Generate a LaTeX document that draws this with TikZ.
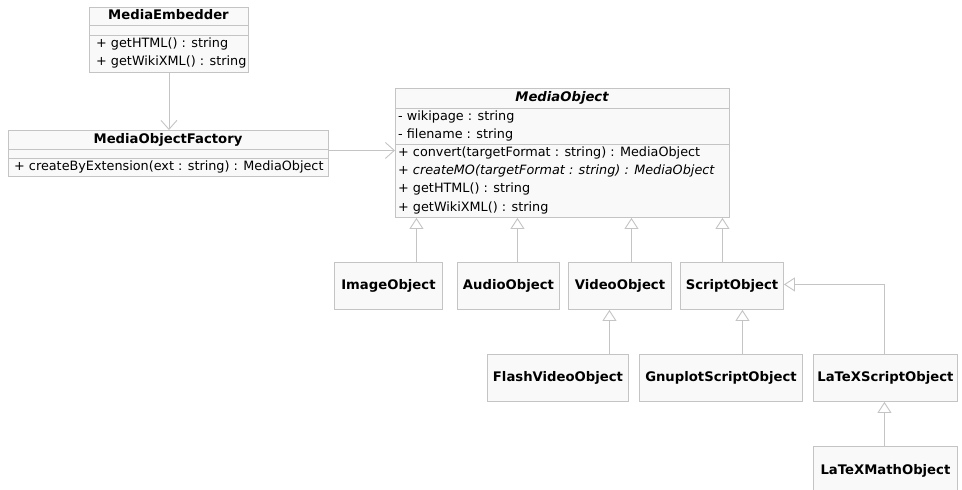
\documentclass[tikz,border=0pt]{standalone}
\usepackage{fontspec}
\setmainfont{DejaVu Sans}
\usetikzlibrary{arrows.meta}
\definecolor{lineg}{RGB}{196,196,196}
\definecolor{boxf}{RGB}{249,249,249}
\tikzset{
  cls/.style={draw=lineg, fill=boxf, line width=0.9pt, inner sep=0pt, anchor=north west},
  ttl/.style={font=\bfseries\fontsize{13.2}{15}\selectfont, inner sep=0pt, text height=9.5pt, text depth=3pt},
  mem/.style={font=\fontsize{12.8}{15}\selectfont, anchor=west, inner sep=0pt, text height=9.5pt, text depth=3pt},
  sep/.style={draw=lineg, line width=0.9pt},
  gen/.style={draw=lineg, line width=0.9pt, -{Triangle[open,length=11pt,width=14pt]}},
  dep/.style={draw=lineg, line width=0.9pt, -{Straight Barb[length=9pt,width=16pt]}},
}
\begin{document}
\begin{tikzpicture}[x=1pt,y=-1pt]
\useasboundingbox (0,0) rectangle (962,490);
\clip (0,0) rectangle (962,490);
\fill[white] (0,0) rectangle (962,490);

% MediaEmbedder
\node[cls, minimum width=159pt, minimum height=65pt] (emb) at (89,7) {};
\node[ttl] (embt) at (168.5,16) {MediaEmbedder};
\draw[sep] (emb.west |- 0,25) -- (emb.east |- 0,25);
\draw[sep] (emb.west |- 0,35) -- (emb.east |- 0,35);
\node[mem] (emb1) at (96,44) {+ getHTML() : string};
\node[mem] (emb2) at (96,62) {+ getWikiXML() : string};

% MediaObjectFactory
\node[cls, minimum width=320pt, minimum height=46pt] (fac) at (8,130) {};
\node[ttl] (fact) at (168,140) {MediaObjectFactory};
\draw[sep] (fac.west |- 0,149) -- (fac.east |- 0,149);
\draw[sep] (fac.west |- 0,158) -- (fac.east |- 0,158);
\node[mem] (fac1) at (14,167) {+ createByExtension(ext : string) : MediaObject};

% MediaObject
\node[cls, minimum width=334pt, minimum height=129pt] (mo) at (395,88) {};
\node[ttl, font=\bfseries\itshape\fontsize{13.2}{15}\selectfont] (mot) at (562,98) {MediaObject};
\draw[sep] (mo.west |- 0,108) -- (mo.east |- 0,108);
\node[mem] (mo1) at (398,117) {- wikipage : string};
\node[mem] (mo2) at (398,135) {- filename : string};
\draw[sep] (mo.west |- 0,144) -- (mo.east |- 0,144);
\node[mem] (mo3) at (398,153) {+ convert(targetFormat : string) : MediaObject};
\node[mem] (mo4) at (398,171) {+ \textit{createMO(targetFormat : string) : MediaObject}};
\node[mem] (mo5) at (398,189) {+ getHTML() : string};
\node[mem] (mo6) at (398,208) {+ getWikiXML() : string};

% Subclasses
\node[cls, minimum width=108pt, minimum height=47pt] (img) at (334,262) {};
\node[ttl] at (img.center) {ImageObject};
\node[cls, minimum width=102pt, minimum height=47pt] (aud) at (457,262) {};
\node[ttl] at (aud.center) {AudioObject};
\node[cls, minimum width=103pt, minimum height=47pt] (vid) at (568,262) {};
\node[ttl] at (vid.center) {VideoObject};
\node[cls, minimum width=103pt, minimum height=47pt] (scr) at (680,262) {};
\node[ttl] at (scr.center) {ScriptObject};

\node[cls, minimum width=141pt, minimum height=47pt] (fla) at (487,354) {};
\node[ttl] at (fla.center) {FlashVideoObject};
\node[cls, minimum width=163pt, minimum height=47pt] (gnu) at (639,354) {};
\node[ttl] at (gnu.center) {GnuplotScriptObject};
\node[cls, minimum width=144pt, minimum height=47pt] (ltx) at (813,354) {};
\node[ttl] at (ltx.center) {LaTeXScriptObject};
\node[cls, minimum width=144pt, minimum height=47pt] (ltm) at (813,446) {};
\node[ttl] at ([yshift=-1pt]ltm.center) {LaTeXMathObject};

% dependencies
\draw[dep] (emb.south) -- (emb.south |- fac.north);
\draw[dep] ([yshift=3pt]fac.east) -- ([yshift=3pt]fac.east -| mo.west);

% generalizations
\draw[gen] ([xshift=28pt]img.north) -- ([xshift=28pt]img.north |- mo.south);
\draw[gen] ([xshift=9pt]aud.north) -- ([xshift=9pt]aud.north |- mo.south);
\draw[gen] ([xshift=11.5pt]vid.north) -- ([xshift=11.5pt]vid.north |- mo.south);
\draw[gen] ([xshift=-9.5pt]scr.north) -- ([xshift=-9.5pt]scr.north |- mo.south);
\draw[gen] ([xshift=51.5pt]fla.north) -- ([xshift=51.5pt]fla.north |- vid.south);
\draw[gen] ([xshift=21.5pt]gnu.north) -- ([xshift=21.5pt]gnu.north |- scr.south);
\draw[gen] ([xshift=-1pt]ltx.north) |- ([yshift=1.5pt]scr.east);
\draw[gen] ([xshift=-1pt]ltm.north) -- ([xshift=-1pt]ltm.north |- ltx.south);
\end{tikzpicture}
\end{document}
